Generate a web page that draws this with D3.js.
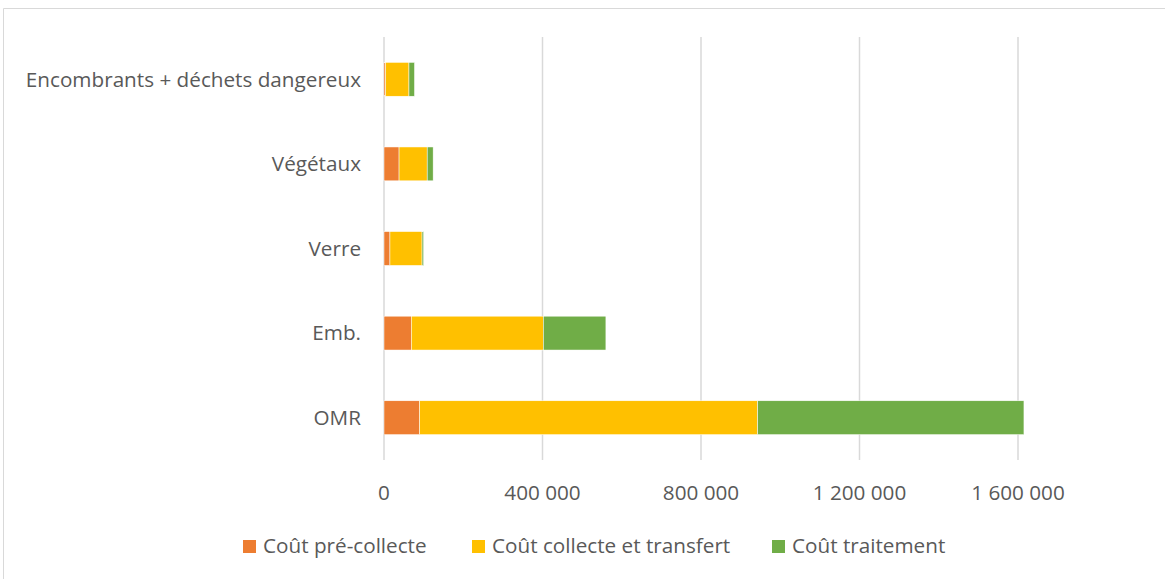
<!DOCTYPE html>
<html>
<head>
<meta charset="utf-8">
<script src="https://d3js.org/d3.v7.min.js"></script>
<style>
  body { margin: 0; background: #fff; }
  text { font-family: "Open Sans", Lato, sans-serif; fill: #595959; }
</style>
</head>
<body>
<svg width=1165 height=579></svg>

<script>
// categories, bottom to top as in the chart
var categories = ["OMR", "Emb.", "Verre", "Végétaux", "Encombrants + déchets dangereux"];
var seriesNames = ["Coût pré-collecte", "Coût collecte et transfert", "Coût traitement"];
var preCollecte = [90000, 69000, 15000, 38000, 4000];
var collecte = [853000, 333000, 81000, 71000, 59000];
var traitement = [672000, 158000, 4000, 15000, 14000];
var tickValues = [0, 400000, 800000, 1200000, 1600000];
var colors = ["#ed7d31", "#ffc000", "#70ad47"];

var svg = d3.select("svg");

// chart frame (cropped: only top and left edges visible)
svg.append("path")
  .attr("d", "M3.5,579 V8.5 H1165")
  .attr("fill", "none")
  .attr("stroke", "#d9d9d9")
  .attr("stroke-width", 1);

var x = d3.scaleLinear()
  .domain([0, 1650000])
  .range([384, 384 + 1650000 * 158.5 / 400000]);

var y = d3.scaleBand()
  .domain(categories.slice().reverse())
  .range([37, 460])
  .paddingInner(0.6)
  .paddingOuter(0.3);

// gridlines
svg.append("g")
  .selectAll("line")
  .data(tickValues)
  .enter()
  .append("line")
    .attr("x1", d => x(d))
    .attr("x2", d => x(d))
    .attr("y1", 37)
    .attr("y2", 460)
    .attr("stroke", "#d9d9d9")
    .attr("stroke-width", 1.5);

// stack the series
var rows = categories.map((c, i) => ({
  cat: c, s0: preCollecte[i], s1: collecte[i], s2: traitement[i]
}));
var stacked = d3.stack().keys(["s0", "s1", "s2"])(rows);

svg.append("g")
  .selectAll("g")
  .data(stacked)
  .enter()
  .append("g")
    .attr("fill", (d, i) => colors[i])
  .selectAll("rect")
  .data(d => d)
  .enter()
  .append("rect")
    .attr("x", d => x(d[0]))
    .attr("width", d => x(d[1]) - x(d[0]))
    .attr("y", d => y(d.data.cat))
    .attr("height", y.bandwidth())
    .attr("stroke", "#fff")
    .attr("stroke-width", 0.5);

// category labels
svg.append("g")
  .selectAll("text")
  .data(categories)
  .enter()
  .append("text")
    .attr("x", 361)
    .attr("y", d => y(d) + y.bandwidth() / 2)
    .attr("dy", "0.35em")
    .attr("text-anchor", "end")
    .attr("font-size", 20.7)
    .text(d => d);

// x tick labels
var fmt = d => d3.format(",")(d).replace(/,/g, " ");
svg.append("g")
  .selectAll("text")
  .data(tickValues)
  .enter()
  .append("text")
    .attr("x", d => x(d))
    .attr("y", 493)
    .attr("dy", "0.35em")
    .attr("text-anchor", "middle")
    .attr("font-size", 20.7)
    .text(fmt);

// legend
var legendX = [243, 472, 772];
var legend = svg.append("g")
  .selectAll("g")
  .data(seriesNames)
  .enter()
  .append("g")
    .attr("transform", (d, i) => "translate(" + legendX[i] + ",546)");

legend.append("rect")
  .attr("x", 0)
  .attr("y", -6)
  .attr("width", 13)
  .attr("height", 13)
  .attr("fill", (d, i) => colors[i]);

legend.append("text")
  .attr("x", 20)
  .attr("y", 0)
  .attr("dy", "0.35em")
  .attr("font-size", 20.7)
  .text(d => d);
</script>
</body>
</html>
